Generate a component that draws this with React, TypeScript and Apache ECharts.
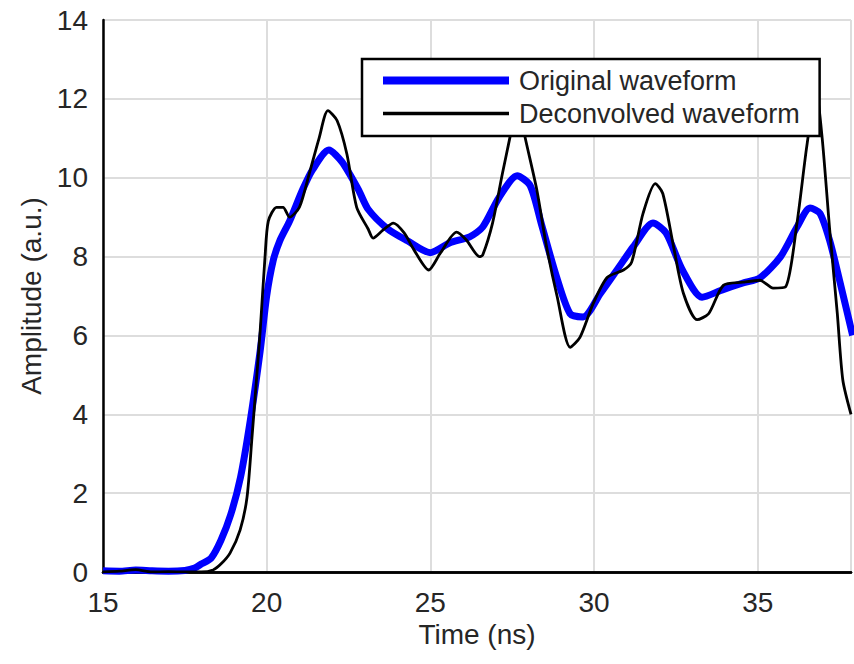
import React, { useEffect, useRef } from "react";
import * as echarts from "echarts";

const originalT = [15.0, 15.5, 16.0, 16.5, 17.0, 17.5, 17.8, 18.0, 18.3, 18.6, 18.9, 19.2, 19.5, 19.8, 20.0, 20.2, 20.4, 20.7, 21.1, 21.4, 21.9, 22.3, 22.8, 23.1, 23.7, 24.3, 25.0, 25.6, 26.2, 26.6, 27.1, 27.65, 28.05, 28.4, 28.85, 29.27, 29.67, 30.2, 30.7, 31.2, 31.8, 32.2, 32.7, 33.3, 33.9, 34.55, 35.07, 35.7, 36.2, 36.6, 36.9, 37.2, 37.5, 37.9];
const originalV = [0.03, 0.02, 0.05, 0.03, 0.02, 0.04, 0.1, 0.2, 0.35, 0.8, 1.45, 2.4, 3.85, 5.6, 7.0, 7.9, 8.4, 8.9, 9.7, 10.2, 10.7, 10.4, 9.7, 9.2, 8.7, 8.4, 8.1, 8.35, 8.5, 8.75, 9.5, 10.05, 9.8, 8.8, 7.5, 6.55, 6.47, 7.07, 7.66, 8.25, 8.85, 8.6, 7.66, 6.97, 7.15, 7.33, 7.46, 8.0, 8.75, 9.23, 9.1, 8.4, 7.4, 6.0];

const deconvT = [15.0, 15.5, 16.0, 16.5, 17.0, 17.5, 18.0, 18.36, 18.6, 18.88, 19.19, 19.4, 19.55, 19.7, 19.8, 19.95, 20.05, 20.3, 20.5, 20.7, 21.0, 21.3, 21.6, 21.87, 22.15, 22.45, 22.75, 23.1, 23.25, 23.55, 23.87, 24.2, 24.5, 24.95, 25.3, 25.8, 26.1, 26.5, 26.6, 26.9, 27.2, 27.45, 27.65, 27.9, 28.25, 28.55, 28.87, 29.27, 29.57, 29.97, 30.4, 30.9, 31.15, 31.5, 31.87, 32.1, 32.43, 32.73, 33.15, 33.5, 33.95, 34.55, 35.07, 35.47, 35.85, 36.2, 36.5, 36.78, 36.97, 37.2, 37.43, 37.6, 37.85];
const deconvV = [0.0, 0.02, 0.06, 0.0, 0.01, 0.0, 0.0, 0.05, 0.2, 0.48, 1.07, 1.9, 3.4, 5.0, 6.1, 8.0, 8.9, 9.25, 9.25, 9.0, 9.25, 10.1, 11.0, 11.7, 11.45, 10.6, 9.25, 8.7, 8.47, 8.67, 8.85, 8.6, 8.17, 7.66, 8.08, 8.62, 8.42, 8.0, 8.04, 8.85, 10.1, 11.1, 12.0, 11.0, 9.7, 8.25, 7.0, 5.7, 5.95, 6.8, 7.47, 7.66, 7.86, 9.1, 9.85, 9.6, 8.25, 7.07, 6.4, 6.55, 7.27, 7.35, 7.4, 7.2, 7.23, 8.85, 10.8, 12.2, 11.0, 8.67, 6.57, 4.87, 4.0];

const seriesNames = ["Original waveform", "Deconvolved waveform"];
const xMin = 15;
const xMax = 37.85;
const xInterval = 5;
const yMin = 0;
const yMax = 14;
const yInterval = 2;

const FONT = "'Liberation Sans', Arial, Helvetica, sans-serif";
const TEXT = "#262626";

export default function App() {
  const ref = useRef<HTMLDivElement>(null);
  useEffect(() => {
    if (!ref.current) return;
    const chart = echarts.init(ref.current, null, { renderer: "svg" });
    const pairs = (t: number[], v: number[]) => t.map((x, i) => [x, v[i]]);
    chart.setOption({
      animation: false,
      backgroundColor: "#ffffff",
      textStyle: { fontFamily: FONT, color: TEXT },
      grid: { left: 103, top: 20, right: 2, bottom: 92, containLabel: false },
      legend: {
        orient: "vertical",
        left: 362,
        top: 59,
        padding: [8, 20, 9, 21],
        itemGap: 6,
        itemWidth: 126,
        itemHeight: 27,
        symbolKeepAspect: true,
        backgroundColor: "#ffffff",
        borderColor: "#000000",
        borderWidth: 2.5,
        borderRadius: 0,
        textStyle: { fontFamily: FONT, fontSize: 27, color: TEXT, padding: [0, 0, 0, 5] },
        data: [
          { name: seriesNames[0], icon: "path://M0,0H126V8H0Z", itemStyle: { color: "#0000ff", borderWidth: 0 } },
          { name: seriesNames[1], icon: "path://M0,0H126V3.5H0Z", itemStyle: { color: "#000000", borderWidth: 0 } },
        ],
        selectedMode: false,
      },
      xAxis: [
        {
          type: "value",
          min: xMin,
          max: xMax,
          interval: xInterval,
          name: "Time (ns)",
          nameLocation: "middle",
          nameGap: 34,
          nameTextStyle: { fontFamily: FONT, fontSize: 28, color: TEXT },
          axisLine: { show: true, onZero: false, lineStyle: { color: "#000", width: 2.5 } },
          axisTick: { show: false },
          axisLabel: {
            fontFamily: FONT,
            fontSize: 28,
            color: TEXT,
            margin: 16,
            formatter: (v: number) => (Math.abs(v / xInterval - Math.round(v / xInterval)) < 1e-6 ? String(v) : ""),
          },
          splitLine: { show: true, lineStyle: { color: "#dddddd", width: 2 } },
        },
        {
          type: "value",
          position: "top",
          min: xMin,
          max: xMax,
          interval: xInterval,
          axisLine: { show: true, lineStyle: { color: "#000", width: 2.5 } },
          axisTick: { show: false },
          axisLabel: { show: false },
          splitLine: { show: false },
        },
      ],
      yAxis: {
        type: "value",
        min: yMin,
        max: yMax,
        interval: yInterval,
        name: "Amplitude (a.u.)",
        nameLocation: "middle",
        nameGap: 58,
        nameTextStyle: { fontFamily: FONT, fontSize: 28, color: TEXT },
        axisLine: { show: true, lineStyle: { color: "#000", width: 2.5 } },
        axisTick: { show: false },
        axisLabel: { fontFamily: FONT, fontSize: 28, color: TEXT, margin: 15 },
        splitLine: { show: true, lineStyle: { color: "#dddddd", width: 2 } },
      },
      series: [
        {
          name: seriesNames[0],
          type: "line",
          data: pairs(originalT, originalV),
          showSymbol: false,
          symbol: "none",
          smooth: 0.25,
          lineStyle: { color: "#0000ff", width: 7 },
          itemStyle: { color: "#0000ff" },
          z: 2,
        },
        {
          name: seriesNames[1],
          type: "line",
          data: pairs(deconvT, deconvV),
          showSymbol: false,
          symbol: "none",
          smooth: 0.25,
          lineStyle: { color: "#000000", width: 2.8 },
          itemStyle: { color: "#000000" },
          z: 3,
        },
      ],
    });
    return () => chart.dispose();
  }, []);
  return (
    <div
      ref={ref}
      style={{ position: "absolute", left: 0, top: 0, width: 854, height: 664, background: "#fff" }}
    />
  );
}
